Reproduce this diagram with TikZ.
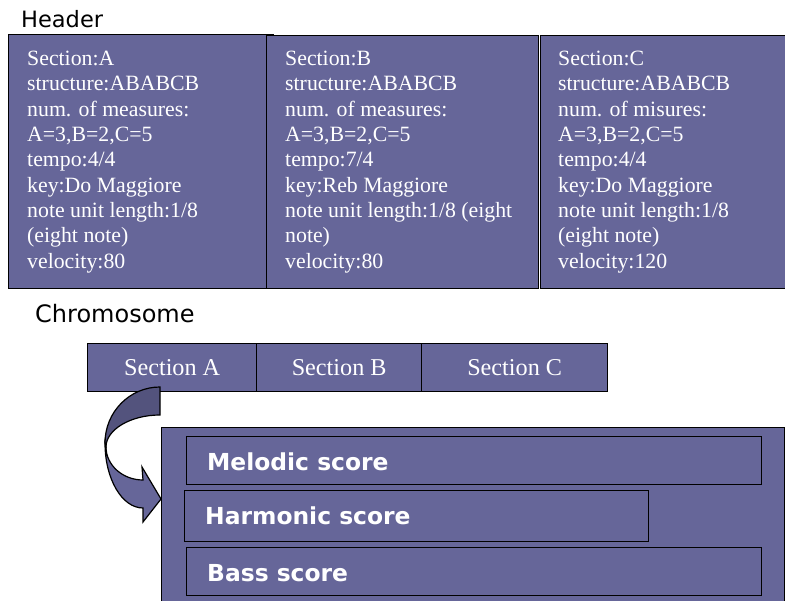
\documentclass[tikz,border=0pt]{standalone}
\usepackage{fontspec}
\setmainfont{Liberation Serif}
\newfontfamily\vsans{DejaVu Sans}
\definecolor{boxfill}{HTML}{666699}
\definecolor{boxdark}{HTML}{53537D}
\begin{document}
\begin{tikzpicture}[x=1pt,y=-1pt,
  pbox/.style={draw=black,line width=1.3pt,fill=boxfill,inner sep=0pt,anchor=north west},
  htext/.style={anchor=north west,inner sep=0pt,align=left,text=white,font=\fontsize{21.8}{25.3}\selectfont},
  ctext/.style={inner sep=0pt,text=white,font=\fontsize{24.2}{27}\selectfont},
  stext/.style={anchor=west,inner sep=0pt,text=white,font=\vsans\bfseries\fontsize{23.4}{26}\selectfont},
  ltext/.style={anchor=base west,inner sep=0pt,font=\vsans\fontsize{22.5}{26}\selectfont}]
\useasboundingbox (0,0) rectangle (785,601);
\clip (0,0) rectangle (785,601);
% labels
\node[ltext] (hdr) at (21,28) {Header};
\node[ltext,font=\vsans\fontsize{24}{28}\selectfont] (chr) at (35,323) {Chromosome};
% header boxes
\node[pbox,minimum width=265,minimum height=254] (hA) at (8,34) {};
\node[pbox,minimum width=272,minimum height=253] (hB) at (266,35) {};
\node[pbox,minimum width=260,minimum height=253] (hC) at (539.5,35) {};
\node[htext] (tA) at (27,51) {Section:A\\structure:ABABCB\\num. of measures:\\A=3,B=2,C=5\\tempo:4/4\\key:Do Maggiore\\note unit length:1/8\\(eight note)\\velocity:80};
\node[htext] (tB) at (285,51) {Section:B\\structure:ABABCB\\num. of measures:\\A=3,B=2,C=5\\tempo:7/4\\key:Reb Maggiore\\note unit length:1/8 (eight\\note)\\velocity:80};
\node[htext] (tC) at (558,51) {Section:C\\structure:ABABCB\\num. of misures:\\A=3,B=2,C=5\\tempo:4/4\\key:Do Maggiore\\note unit length:1/8\\(eight note)\\velocity:120};
% chromosome bar
\node[pbox,minimum width=169,minimum height=48] (sA) at (87,343) {};
\node[pbox,minimum width=165,minimum height=48] (sB) at (256,343) {};
\node[pbox,minimum width=186,minimum height=48] (sC) at (421,343) {};
\node[ctext] at (sA.center) {Section A};
\node[ctext] at (sB.center) {Section B};
\node[ctext] at (sC.center) {Section C};
% section detail
\node[pbox,minimum width=623,minimum height=190] (big) at (161,427) {};
\node[pbox,minimum width=575,minimum height=48] (mel) at (186,436) {};
\node[pbox,minimum width=464,minimum height=51] (har) at (184,490) {};
\node[pbox,minimum width=575,minimum height=48] (bas) at (186,547) {};
\node[stext] at (207,462) {Melodic score};
\node[stext] at (205,516) {Harmonic score};
\node[stext] at (207,573) {Bass score};
% curved arrow
\draw[line width=1.2pt,fill=boxfill,line join=miter]
  (106,447) .. controls (106,465) and (122.6,480) .. (143,480)
  -- (142,467) -- (161,499) -- (143,522) -- (143,508)
  .. controls (122,508) and (105,479) .. (105,443) -- cycle;
\draw[line width=1.2pt,fill=boxdark,line join=miter]
  (160,387) -- (160,415)
  .. controls (130.2,415) and (106,429.8) .. (106,447)
  -- (105,443)
  .. controls (105,412) and (129.6,387) .. (160,387) -- cycle;
\end{tikzpicture}
\end{document}
